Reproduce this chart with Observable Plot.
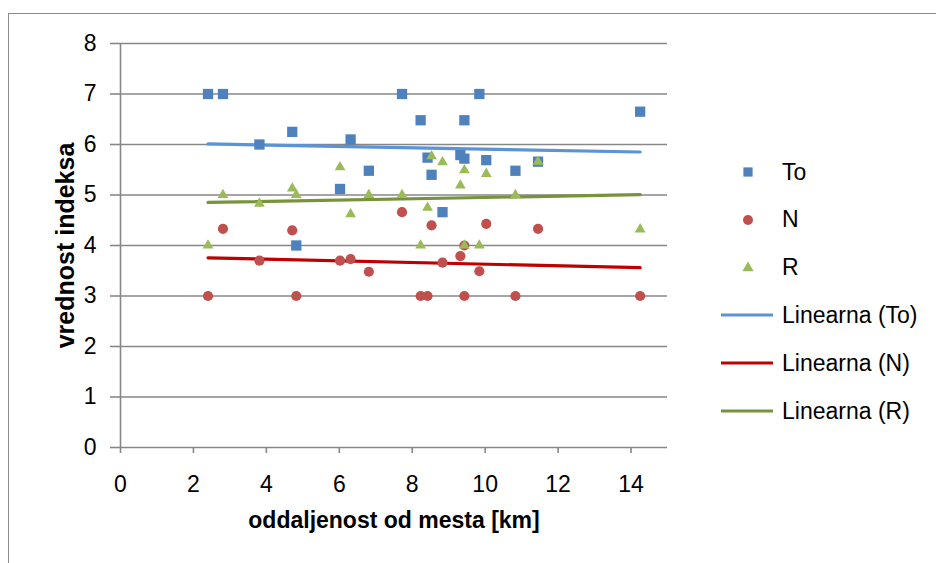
<!DOCTYPE html>
<html>
<head>
<meta charset="utf-8">
<script src="https://cdn.jsdelivr.net/npm/d3@7"></script>
<script src="https://cdn.jsdelivr.net/npm/@observablehq/plot@0.6"></script>
<style>
  body { margin: 0; background: #fff; font-family: "Liberation Sans", Arial, sans-serif; }
  #wrap { position: relative; width: 936px; height: 563px; overflow: hidden; background: #fff; }
  #frame { position: absolute; left: 8px; top: 13px; width: 960px; height: 600px;
           border-left: 1.5px solid #8c8c8c; border-top: 1.5px solid #8c8c8c; }
  #chart { position: absolute; left: 0; top: 0; }
  .leg { position: absolute; left: 712px; width: 224px; height: 30px; display: flex; align-items: center;
         font-size: 23px; color: #000; }
  .leg svg { flex: none; }
  .leg span { position: absolute; left: 70px; white-space: nowrap; }
</style>
</head>
<body>
<div id="wrap">
  <div id="frame"></div>
  <div id="chart"></div>
</div>
<script>
// Distance of each sampling site from the town [km]
const distance = [2.4, 2.81, 3.81, 4.71, 4.82, 6.02, 6.31, 6.81, 7.72, 8.23, 8.42,
                  8.53, 8.83, 9.32, 9.43, 9.43, 9.84, 10.03, 10.83, 11.45, 14.25];
// Index values per site
const indexTo = [7, 7, 6.0, 6.25, 4.0, 5.12, 6.1, 5.48, 7, 6.48, 5.74,
                 5.4, 4.66, 5.79, 5.72, 6.48, 7, 5.69, 5.48, 5.66, 6.65];
const indexN  = [3, 4.33, 3.7, 4.3, 3, 3.7, 3.73, 3.48, 4.66, 3, 3,
                 4.4, 3.66, 3.79, 4.0, 3.0, 3.49, 4.43, 3, 4.33, 3];
const indexR  = [4.0, 5.0, 4.83, 5.13, 5.0, 5.55, 4.62, 5.0, 5.0, 4.0, 4.75,
                 5.77, 5.65, 5.19, 5.49, 4.0, 4.0, 5.42, 5.0, 5.66, 4.32];

const seriesNames = ["To", "N", "R"];
const xTicks = [0, 2, 4, 6, 8, 10, 12, 14];
const yTicks = [0, 1, 2, 3, 4, 5, 6, 7, 8];

const markerColor = {To: "#4F81BD", N: "#C0504D", R: "#9BBB59"};
const trendColor  = {To: "#5A93D8", N: "#C00000", R: "#77933C"};
const symbolOf    = {To: "square", N: "circle", R: "triangle"};
const radiusOf    = {To: 5.8, N: 5.1, R: 4.0};

const values = {To: indexTo, N: indexN, R: indexR};
const rows = Object.fromEntries(seriesNames.map(s =>
  [s, distance.map((x, i) => ({x, y: values[s][i], series: s}))]));

const gray = "#878787";
const intFormat = d3.format("d");

const plot = Plot.plot({
  width: 936,
  height: 563,
  marginLeft: 120,
  marginRight: 269,
  marginTop: 43,
  marginBottom: 116,
  x: {domain: [0, 15]},
  y: {domain: [0, 8]},
  style: {fontFamily: "'Liberation Sans', Arial, sans-serif", fontSize: "23px", color: "#000", background: "transparent"},
  marks: [
    Plot.gridY(yTicks.filter(d => d > 0), {stroke: gray, strokeOpacity: 1, strokeWidth: 1.6}),
    Plot.ruleY([0], {stroke: gray, strokeWidth: 1.6}),
    Plot.ruleX([0], {stroke: gray, strokeWidth: 1.6}),
    Plot.axisY(yTicks, {tickSize: 10, tickPadding: 14, stroke: gray, strokeWidth: 1.6, label: null, tickFormat: intFormat}),
    Plot.axisX(xTicks, {tickSize: 6, tickPadding: 22, stroke: gray, strokeWidth: 1.6, label: null, tickFormat: intFormat}),
    ...seriesNames.map(s => Plot.linearRegressionY(rows[s], {
      x: "x", y: "y", ci: 0, stroke: trendColor[s], strokeWidth: 3.2
    })),
    ...seriesNames.map(s => Plot.dot(rows[s], {
      x: "x", y: "y", symbol: symbolOf[s], r: radiusOf[s], fill: markerColor[s], stroke: "none"
    })),
    Plot.text(["oddaljenost od mesta [km]"], {
      frameAnchor: "bottom", dy: 80, fontWeight: "bold", fontSize: 23, fill: "#000"
    }),
    Plot.text(["vrednost indeksa"], {
      frameAnchor: "left", textAnchor: "middle", lineAnchor: "middle", dx: -55, rotate: -90,
      fontWeight: "bold", fontSize: 25, fill: "#000"
    })
  ]
});
document.getElementById("chart").appendChild(plot);

// Legend on the right: markers for the series, then their trend lines
const legendItems = [
  ...seriesNames.map(s => ({label: s, kind: "marker", series: s})),
  ...seriesNames.map(s => ({label: `Linearna (${s})`, kind: "line", series: s}))
];
const wrap = document.getElementById("wrap");
const rowTop = 157, rowStep = 47.8;
legendItems.forEach((item, i) => {
  const div = document.createElement("div");
  div.className = "leg";
  div.style.top = (rowTop + i * rowStep) + "px";
  const svg = d3.create("svg").attr("width", 64).attr("height", 30);
  if (item.kind === "marker") {
    const sym = {square: d3.symbolSquare, circle: d3.symbolCircle, triangle: d3.symbolTriangle}[symbolOf[item.series]];
    const r = {To: 5.2, N: 5.0, R: 4.2}[item.series];
    svg.append("path")
      .attr("transform", "translate(36,15)")
      .attr("d", d3.symbol(sym, Math.PI * r * r)())
      .attr("fill", markerColor[item.series]);
  } else {
    svg.append("line")
      .attr("x1", 9).attr("x2", 61).attr("y1", 15).attr("y2", 15)
      .attr("stroke", trendColor[item.series]).attr("stroke-width", 3.2);
  }
  div.appendChild(svg.node());
  const span = document.createElement("span");
  span.textContent = item.label;
  div.appendChild(span);
  wrap.appendChild(div);
});
</script>
</body>
</html>
